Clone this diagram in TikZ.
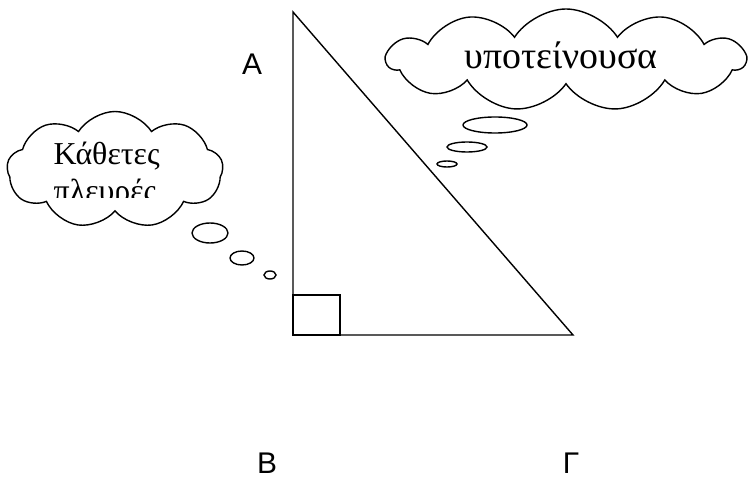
\documentclass[tikz,border=0pt]{standalone}
\usepackage{fontspec}
\setmainfont{Liberation Serif}
\setsansfont{Liberation Sans}
\usetikzlibrary{shapes.symbols}

\begin{document}
\begin{tikzpicture}[x=1bp,y=-1bp,line width=1.4bp,
  cloudbox/.style={draw,cloud,cloud ignores aspect,cloud puff arc=115,inner sep=0pt},
  vertexlabel/.style={font=\sffamily\fontsize{30}{30}\selectfont,inner sep=0pt},
  thought/.style={font=\fontsize{32}{37}\selectfont,inner sep=0pt}]
  \useasboundingbox (0,0) rectangle (753,481);
  \def\bubble#1#2#3{
    \draw (#1) ellipse [x radius=#2bp, y radius=#3bp];
  }

  % triangle
  \coordinate (A) at (293,12);
  \coordinate (B) at (293,335);
  \coordinate (G) at (573,335);
  \draw (A) -- (B) -- (G) -- cycle;
  \draw (B) rectangle (340,295);

  \node[vertexlabel] (labA) at (252,64) {A};
  \node[vertexlabel] (labB) at (267,463) {B};
  \node[vertexlabel] (labG) at (571,463) {Γ};

  % hypotenuse cloud
  \node[cloudbox,cloud puffs=11,minimum width=358bp,minimum height=102bp] (hypcloud) at (566,60) {};
  \node[thought,font=\fontsize{38}{44}\selectfont,anchor=base] (hyptext) at (561,69) {υποτείνουσα};
  \bubble{495,125}{32}{8}
  \bubble{467,147}{20}{5}
  \bubble{447,164}{10}{3}

  % legs cloud
  \node[cloudbox,cloud puffs=9,minimum width=216bp,minimum height=117bp] (legcloud) at (115,170) {};
  \begin{scope}
    \clip (0,0) rectangle (753,198);
    \node[thought,anchor=base west] (legtext) at (53,165) {Κάθετες};
    \node[thought,anchor=base west] (legtext2) at (53,202) {πλευρές};
  \end{scope}
  \bubble{210,233}{18}{10}
  \bubble{242,258}{12}{7}
  \bubble{270,275}{6}{4}
\end{tikzpicture}
\end{document}
